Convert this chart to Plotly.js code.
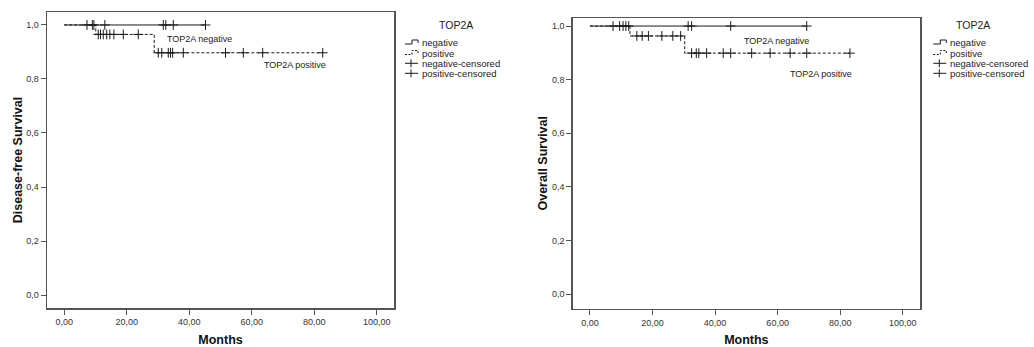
<!DOCTYPE html>
<html>
<head>
<meta charset="utf-8">
<script src="https://cdn.plot.ly/plotly-3.0.1.min.js"></script>
<style>html,body{margin:0;padding:0;background:#fff;}#chart{width:1034px;height:347px;}</style>
</head>
<body>
<div id="chart"></div>
<script>
// ---- Data ----
// Disease-free survival (left panel)
const dfsNegTime = [0, 45.2];
const dfsNegSurv = [1.0, 1.0];
const dfsNegCensor = [7.3, 9.0, 9.5, 13.0, 31.7, 32.5, 34.9, 45.2];
const dfsPosTime = [0, 10.1, 28.8, 82.7];
const dfsPosSurv = [1.0, 0.965, 0.897, 0.897];
const dfsPosCensor = [10.9, 11.6, 12.5, 13.6, 14.6, 15.9, 18.9, 23.7, 30.1, 31.2, 33.3, 34.0, 34.7, 38.1, 51.6, 57.3, 63.5, 82.7];
// Overall survival (right panel)
const osNegTime = [0, 69.3];
const osNegSurv = [1.0, 1.0];
const osNegCensor = [7.4, 9.5, 10.6, 11.5, 12.4, 31.4, 32.5, 45.0, 69.3];
const osPosTime = [0, 12.8, 30.3, 83.1];
const osPosSurv = [1.0, 0.963, 0.899, 0.899];
const osPosCensor = [15.0, 16.7, 18.7, 23.0, 26.5, 29.0, 32.5, 34.0, 34.8, 37.3, 42.6, 45.0, 51.7, 57.6, 64.0, 69.3, 83.1];
// Tick labels / text
const xTicks = [0, 20, 40, 60, 80, 100];
const yTicks = [0, 0.2, 0.4, 0.6, 0.8, 1.0];
const legendTitle = "TOP2A";
const legendLabels = ["negative", "positive", "negative-censored", "positive-censored"];

// ---- helpers ----
const W = 1034, H = 347;
const px = x => x / W;
const py = y => 1 - y / H;
function stepAt(times, surv, t) {
  let s = surv[0];
  for (let i = 0; i < times.length; i++) { if (times[i] <= t) s = surv[i]; }
  return s;
}
const FONT = "Liberation Sans, Arial, sans-serif";
const INK = "#1a1a1a";

function kmTraces(negT, negS, negC, posT, posS, posC, xa, ya) {
  const mk = {symbol: "cross-thin-open", size: 7, color: INK, line: {color: INK, width: 1}};
  return [
    {x: negT, y: negS, xaxis: xa, yaxis: ya, type: "scatter", mode: "lines", line: {shape: "hv", color: INK, width: 1}, name: "negative", showlegend: false},
    {x: posT, y: posS, xaxis: xa, yaxis: ya, type: "scatter", mode: "lines", line: {shape: "hv", color: INK, width: 1, dash: "3px,2px"}, name: "positive", showlegend: false},
    {x: negC, y: negC.map(t => stepAt(negT, negS, t)), xaxis: xa, yaxis: ya, type: "scatter", mode: "markers", marker: mk, name: "negative-censored", showlegend: false},
    {x: posC, y: posC.map(t => stepAt(posT, posS, t)), xaxis: xa, yaxis: ya, type: "scatter", mode: "markers", marker: mk, name: "positive-censored", showlegend: false}
  ];
}

const data = [
  ...kmTraces(dfsNegTime, dfsNegSurv, dfsNegCensor, dfsPosTime, dfsPosSurv, dfsPosCensor, "x", "y"),
  ...kmTraces(osNegTime, osNegSurv, osNegCensor, osPosTime, osPosSurv, osPosCensor, "x2", "y2")
];

const axisCommon = {
  showline: true, mirror: true, linecolor: "#555", linewidth: 1.5,
  ticks: "outside", ticklen: 5, tickwidth: 1, tickcolor: "#555",
  showgrid: false, zeroline: false, fixedrange: true,
  tickfont: {family: FONT, size: 9, color: "#333"}
};
const titleFont = {family: FONT, size: 12.5, color: "#111", weight: "bold"};

function xAx(domain, anchor) {
  return Object.assign({}, axisCommon, {
    domain: domain, anchor: anchor, range: [-5.5, 105.5],
    tickmode: "array", tickvals: xTicks, tickformat: ".2f",
    title: {text: "<b>Months</b>", font: titleFont, standoff: 12}
  });
}
function yAx(domain, anchor, range, title) {
  return Object.assign({}, axisCommon, {
    domain: domain, anchor: anchor, range: range,
    tickmode: "array", tickvals: yTicks, tickformat: ".1f",
    title: {text: "<b>" + title + "</b>", font: titleFont, standoff: 1}
  });
}

// ---- custom legends (shapes + text) ----
const shapes = [];
const annotations = [];
function addLegend(x0, titleX) {
  const rows = [42.5, 53, 63.3, 73.3];
  annotations.push({xref: "paper", yref: "paper", x: px(titleX), y: py(24.5), text: legendTitle, showarrow: false, xanchor: "center", yanchor: "middle", font: {family: FONT, size: 10.5, color: "#222"}});
  let y = rows[0];
  shapes.push({type: "path", xref: "paper", yref: "paper",
    path: `M${px(x0)},${py(y + 1.5)} H${px(x0 + 7)} V${py(y - 2.5)} H${px(x0 + 13)} V${py(y + 0.5)}`,
    line: {color: INK, width: 1}});
  y = rows[1];
  shapes.push({type: "path", xref: "paper", yref: "paper",
    path: `M${px(x0)},${py(y + 1.5)} H${px(x0 + 7)} V${py(y - 2.5)} H${px(x0 + 13)} V${py(y + 0.5)}`,
    line: {color: INK, width: 1, dash: "2px,1.5px"}});
  [rows[2], rows[3]].forEach(yy => {
    shapes.push({type: "line", xref: "paper", yref: "paper", x0: px(x0), x1: px(x0 + 13), y0: py(yy), y1: py(yy), line: {color: INK, width: 1}});
    shapes.push({type: "line", xref: "paper", yref: "paper", x0: px(x0 + 6), x1: px(x0 + 6), y0: py(yy - 4), y1: py(yy + 4), line: {color: INK, width: 1}});
  });
  legendLabels.forEach((lab, i) => {
    annotations.push({xref: "paper", yref: "paper", x: px(x0 + 15), y: py(rows[i]), text: lab, showarrow: false, xanchor: "left", yanchor: "middle", font: {family: FONT, size: 9.5, color: "#222"}});
  });
}
addLegend(405, 455.5);
addLegend(933.3, 973);

// curve labels
const labelFont = {family: FONT, size: 9, color: "#222"};
annotations.push({xref: "x", yref: "y", x: 32.2, y: 0.947, text: "TOP2A negative", showarrow: false, xanchor: "left", yanchor: "middle", font: labelFont});
annotations.push({xref: "x", yref: "y", x: 63.2, y: 0.852, text: "TOP2A positive", showarrow: false, xanchor: "left", yanchor: "middle", font: labelFont});
annotations.push({xref: "x2", yref: "y2", x: 48.5, y: 0.945, text: "TOP2A negative", showarrow: false, xanchor: "left", yanchor: "middle", font: labelFont});
annotations.push({xref: "x2", yref: "y2", x: 63.4, y: 0.821, text: "TOP2A positive", showarrow: false, xanchor: "left", yanchor: "middle", font: labelFont});

const layout = {
  width: W, height: H,
  margin: {l: 0, r: 0, t: 0, b: 0},
  paper_bgcolor: "#fff", plot_bgcolor: "#fff",
  separators: ",.",
  showlegend: false,
  font: {family: FONT, color: "#333"},
  xaxis: xAx([px(47), px(394)], "y"),
  yaxis: yAx([py(308), py(12)], "x", [-0.048, 1.048], "Disease-free Survival"),
  xaxis2: xAx([px(572.7), px(920)], "y2"),
  yaxis2: yAx([py(308.5), py(18)], "x2", [-0.053, 1.03], "Overall Survival"),
  shapes: shapes,
  annotations: annotations
};

Plotly.newPlot("chart", data, layout, {staticPlot: true, displayModeBar: false});
</script>
</body>
</html>
